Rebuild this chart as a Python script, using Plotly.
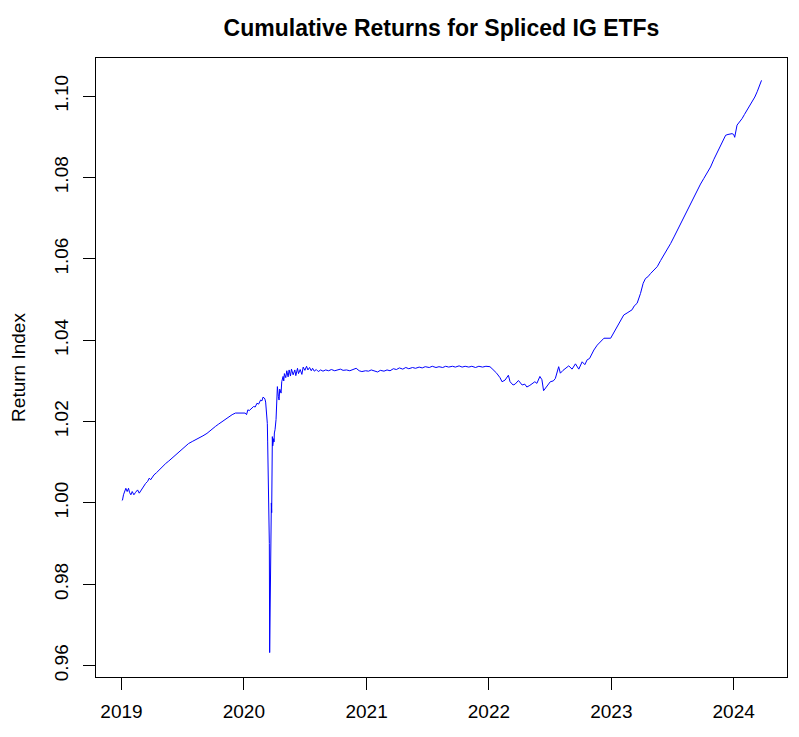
import plotly.graph_objects as go

# ---- data ----
dates_2019 = ["2019-01-02","2019-01-04","2019-01-07","2019-01-10","2019-01-14","2019-01-18","2019-01-22",
              "2019-01-25","2019-01-29","2019-02-02","2019-02-07","2019-02-12","2019-02-18","2019-02-23",
              "2019-03-04","2019-03-09","2019-03-14","2019-03-20","2019-03-25","2019-03-29","2019-04-08",
              "2019-04-15","2019-04-23","2019-05-01","2019-05-13","2019-05-22","2019-06-01","2019-06-10",
              "2019-06-21","2019-07-01","2019-07-11","2019-07-20","2019-07-31","2019-08-10","2019-08-20",
              "2019-09-01","2019-09-13","2019-09-25","2019-10-08","2019-10-18","2019-10-28","2019-11-07",
              "2019-11-17","2019-11-27","2019-12-07","2019-12-17","2019-12-27"]
values_2019 = [1.0006,1.0007,1.0020,1.0030,1.0036,1.0028,1.0036,
               1.0026,1.0020,1.0028,1.0020,1.0026,1.0032,1.0024,
               1.0036,1.0042,1.0048,1.0053,1.0061,1.0057,1.0069,
               1.0074,1.0081,1.0087,1.0097,1.0103,1.0110,1.0118,
               1.0126,1.0133,1.0139,1.0146,1.0151,1.0155,1.0159,
               1.0165,1.0171,1.0180,1.0188,1.0194,1.0200,1.0206,
               1.0212,1.0217,1.0221,1.0221,1.0222]

dates_2020 = ["2020-01-05","2020-01-09","2020-01-13","2020-01-17","2020-01-25","2020-01-30","2020-02-04",
              "2020-02-09","2020-02-14","2020-02-20","2020-02-24","2020-02-27","2020-03-02","2020-03-04",
              "2020-03-06","2020-03-09","2020-03-10","2020-03-11","2020-03-12","2020-03-13","2020-03-16",
              "2020-03-17","2020-03-18","2020-03-19","2020-03-20","2020-03-23","2020-03-24","2020-03-25",
              "2020-03-26","2020-03-27","2020-03-30","2020-03-31","2020-04-01","2020-04-03","2020-04-06",
              "2020-04-08","2020-04-10","2020-04-13","2020-04-15","2020-04-17","2020-04-21","2020-04-23",
              "2020-04-27","2020-04-29","2020-05-01","2020-05-05","2020-05-08","2020-05-12","2020-05-15",
              "2020-05-19","2020-05-22","2020-05-27","2020-06-01","2020-06-04","2020-06-09","2020-06-12",
              "2020-06-17","2020-06-22","2020-06-26","2020-07-01","2020-07-06","2020-07-10","2020-07-15",
              "2020-07-20","2020-07-24","2020-07-29","2020-08-04","2020-08-10","2020-08-17","2020-08-24",
              "2020-09-01","2020-09-10","2020-09-18","2020-09-28","2020-10-06","2020-10-15","2020-10-23",
              "2020-11-02","2020-11-12","2020-11-20","2020-12-01","2020-12-10","2020-12-18","2020-12-29"]
values_2020 = [1.0221,1.0217,1.0229,1.0227,1.0233,1.0237,1.0236,
               1.0245,1.0243,1.0253,1.0251,1.0260,1.0258,1.0255,
               1.0248,1.0212,1.0225,1.0195,1.0150,1.0100,1.0032,
               0.9900,0.9632,0.9750,0.9880,1.0000,0.9976,1.0080,
               1.0163,1.0140,1.0158,1.0150,1.0172,1.0180,1.0205,
               1.0240,1.0286,1.0262,1.0253,1.0280,1.0270,1.0298,
               1.0311,1.0300,1.0318,1.0308,1.0325,1.0310,1.0327,
               1.0312,1.0329,1.0315,1.0327,1.0313,1.0331,1.0318,
               1.0328,1.0316,1.0334,1.0326,1.0336,1.0327,1.0333,
               1.0325,1.0331,1.0324,1.0328,1.0323,1.0327,1.0324,
               1.0327,1.0325,1.0328,1.0325,1.0327,1.0329,1.0326,
               1.0327,1.0325,1.0327,1.0331,1.0325,1.0323,1.0325]

dates_2021 = ["2021-01-07","2021-01-15","2021-01-25","2021-02-03","2021-02-11","2021-02-22","2021-03-03",
              "2021-03-12","2021-03-22","2021-03-31","2021-04-09","2021-04-19","2021-04-28","2021-05-07",
              "2021-05-18","2021-05-27","2021-06-07","2021-06-16","2021-06-25","2021-07-07","2021-07-16",
              "2021-07-27","2021-08-05","2021-08-16","2021-08-25","2021-09-03","2021-09-14","2021-09-23",
              "2021-10-04","2021-10-13","2021-10-22","2021-11-02","2021-11-11","2021-11-22","2021-12-02",
              "2021-12-13","2021-12-23"]
values_2021 = [1.0324,1.0327,1.0325,1.0322,1.0326,1.0324,1.0327,
               1.0325,1.0330,1.0328,1.0332,1.0329,1.0333,1.0330,
               1.0333,1.0331,1.0334,1.0332,1.0335,1.0333,1.0336,
               1.0333,1.0335,1.0333,1.0336,1.0334,1.0336,1.0334,
               1.0337,1.0334,1.0336,1.0334,1.0336,1.0333,1.0336,
               1.0334,1.0336]

dates_2022 = ["2022-01-04","2022-01-13","2022-01-24","2022-02-03","2022-02-09","2022-02-18","2022-02-28",
              "2022-03-05","2022-03-14","2022-03-20","2022-03-30","2022-04-10","2022-04-18","2022-04-24",
              "2022-05-03","2022-05-18","2022-05-24","2022-06-02","2022-06-08","2022-06-13","2022-06-23",
              "2022-07-03","2022-07-12","2022-07-18","2022-07-28","2022-08-02","2022-08-10","2022-08-17",
              "2022-08-27","2022-09-06","2022-09-16","2022-09-26","2022-10-06","2022-10-14","2022-10-21",
              "2022-10-28","2022-11-05","2022-11-10","2022-11-20","2022-12-01","2022-12-10","2022-12-30"]
values_2022 = [1.0335,1.0328,1.0319,1.0308,1.0298,1.0302,1.0314,
               1.0298,1.0290,1.0292,1.0301,1.0290,1.0292,1.0285,
               1.0289,1.0298,1.0294,1.0311,1.0303,1.0276,1.0286,
               1.0298,1.0300,1.0306,1.0335,1.0319,1.0326,1.0331,
               1.0337,1.0329,1.0342,1.0329,1.0347,1.0340,1.0352,
               1.0355,1.0368,1.0376,1.0388,1.0398,1.0405,1.0405]

dates_2023 = ["2023-01-08","2023-01-13","2023-01-23","2023-01-30","2023-02-07","2023-02-17","2023-03-04",
              "2023-03-10","2023-03-19","2023-03-29","2023-04-06","2023-04-13","2023-04-20","2023-04-28",
              "2023-05-08","2023-05-18","2023-05-28","2023-06-07","2023-06-17","2023-06-27","2023-07-07",
              "2023-07-17","2023-07-27","2023-08-06","2023-08-16","2023-08-26","2023-09-05","2023-09-14",
              "2023-09-24","2023-10-04","2023-10-14","2023-10-24","2023-11-03","2023-11-13","2023-11-23",
              "2023-12-01","2023-12-08","2023-12-15","2023-12-27"]
values_2023 = [1.0419,1.0425,1.0442,1.0450,1.0462,1.0467,1.0475,
               1.0484,1.0491,1.0515,1.0540,1.0552,1.0556,1.0564,
               1.0572,1.0581,1.0596,1.0609,1.0622,1.0638,1.0654,
               1.0671,1.0688,1.0704,1.0720,1.0736,1.0752,1.0769,
               1.0784,1.0798,1.0812,1.0826,1.0845,1.0863,1.0880,
               1.0892,1.0904,1.0906,1.0908]

dates_2024 = ["2024-01-01","2024-01-04","2024-01-11","2024-01-18","2024-01-26","2024-02-02","2024-02-10",
              "2024-02-17","2024-02-25","2024-03-04","2024-03-11","2024-03-18","2024-03-24"]
values_2024 = [1.0906,1.0899,1.0929,1.0936,1.0945,1.0955,1.0966,
               1.0975,1.0986,1.0998,1.1011,1.1025,1.1039]

tick_dates = ["2019-01-01","2020-01-01","2021-01-01","2022-01-01","2023-01-01","2024-01-01"]
tick_years = ["2019","2020","2021","2022","2023","2024"]
y_ticks = [0.96, 0.98, 1.00, 1.02, 1.04, 1.06, 1.08, 1.10]
y_tick_labels = ["0.96","0.98","1.00","1.02","1.04","1.06","1.08","1.10"]

dates = dates_2019 + dates_2020 + dates_2021 + dates_2022 + dates_2023 + dates_2024
values = values_2019 + values_2020 + values_2021 + values_2022 + values_2023 + values_2024

FONT = "Liberation Sans, Arial, sans-serif"

# The page body has an 8px default margin; the figure is sized to fill the rest.
fig = go.Figure()
fig.add_trace(go.Scatter(x=dates, y=values, mode="lines",
                         line=dict(color="#0000FF", width=1), showlegend=False,
                         hoverinfo="x+y"))

axis_common = dict(showgrid=False, zeroline=False, showline=True, mirror=True,
                   linecolor="black", linewidth=1, ticks="outside", ticklen=12,
                   tickwidth=1, tickcolor="black", automargin=False,
                   tickfont=dict(family=FONT, size=19, color="black"))

fig.update_layout(
    width=791, height=729, autosize=False,
    margin=dict(l=88, r=12, t=50, b=60),
    paper_bgcolor="white", plot_bgcolor="white",
    font=dict(family=FONT, color="black"),
    title=dict(text="<b>Cumulative Returns for Spliced IG ETFs</b>",
               font=dict(family=FONT, size=23, color="black"),
               x=0.5, xref="paper", xanchor="center",
               y=1 - 20 / 729, yref="container", yanchor="middle"),
    xaxis=dict(type="date", range=["2018-10-17", "2024-06-08"],
               tickvals=tick_dates, ticktext=tick_years, ticklabelstandoff=5,
               **axis_common),
    yaxis=dict(range=[0.9572, 1.1094], tickvals=y_ticks, ticktext=y_tick_labels,
               tickangle=-90, ticklabelstandoff=7,
               title=dict(text="Return Index", font=dict(family=FONT, size=19, color="black"),
                          standoff=29),
               **axis_common),
)

fig.write_html("out.html")
